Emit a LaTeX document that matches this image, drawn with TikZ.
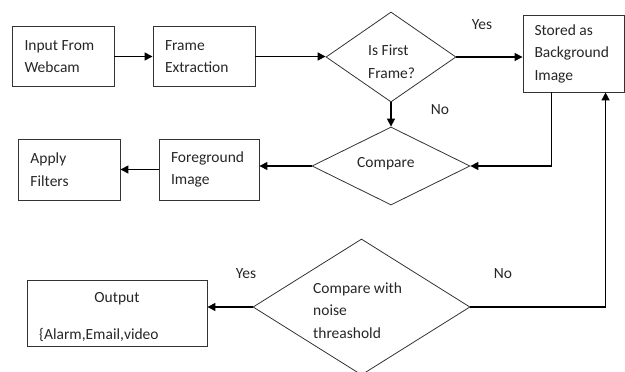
\documentclass[tikz,border=0pt]{standalone}
\usepackage{fontspec}
\setmainfont{Carlito}
\usetikzlibrary{shapes.geometric,arrows.meta,calc}
\begin{document}
\begin{tikzpicture}[x=1pt,y=-1pt,
  every node/.style={font=\fontsize{15.5}{22.5}\selectfont, text=black!85},
  box/.style={draw=black!80, line width=0.9pt, rectangle, inner sep=0pt, align=flush left},
  dec/.style={draw=black!80, line width=0.8pt, diamond, inner sep=0pt},
  arr/.style={draw=black, line width=1.5pt, -{Triangle[length=8pt,width=8pt]}},
  lbl/.style={inner sep=0pt}]
\useasboundingbox (0,0) rectangle (625,372);
% boxes
\node[box, minimum width=102pt, minimum height=60pt, text width=77pt] (b1) at (63,56.5) {Input From\\Webcam};
\node[box, minimum width=102pt, minimum height=60pt, text width=78pt] (b2) at (204,56.5) {Frame\\Extraction};
\node[box, minimum width=101pt, minimum height=77pt, text width=78pt] (b3) at (573.5,53.5) {Stored as\\Background\\Image};
\node[box, minimum width=100pt, minimum height=61pt, text width=76pt] (b4) at (209,169.5) {Foreground\\Image};
\node[box, minimum width=102pt, minimum height=61pt, text width=77pt] (b5) at (69,169.5) {Apply\\Filters};
\node[box, minimum width=180pt, minimum height=66pt] (b6) at (117,313) {};
\node[lbl, anchor=base] (o1) at (117,302) {Output};
\node[lbl, anchor=base west] (o2) at (39,339) {\{Alarm,Email,video};
% decisions
\node[dec, minimum width=130pt, minimum height=90pt] (d1) at (391,57) {};
\node[lbl, anchor=base west, align=flush left] (t1) at (368,78) {Is First\\Frame?};
\node[dec, minimum width=158pt, minimum height=78pt] (d2) at (391,166) {};
\node[lbl, anchor=base west] (t2) at (357,167) {Compare};
\node[dec, minimum width=217pt, minimum height=136pt] (d3) at (361.5,307) {};
\node[lbl, anchor=base west, align=flush left] (t3) at (313,338) {Compare with\\noise\\threashold};
% labels
\node[lbl] (y1) at (482,25) {Yes};
\node[lbl] (n1) at (440,110) {No};
\node[lbl] (y2) at (246,274) {Yes};
\node[lbl] (n2) at (503,274) {No};
% connectors
\draw[arr] (b1.east) -- (b2.west);
\draw[arr] (b2.east) -- (b2.east -| d1.west);
\draw[arr] (d1.east) -- (d1.east -| b3.west);
\draw[arr] (d1.south) -- (d2.north);
\coordinate (c1) at ($(b3.south west)+(29,0)$);
\draw[arr] (c1) |- (d2.east);
\draw[arr] (d2.west) -- (d2.west -| b4.east);
\draw[arr] (b4.west) -- (b4.west -| b5.east);
\coordinate (c2) at ($(b3.south west)+(83,0)$);
\draw[arr] (d3.east) -| (c2);
\draw[arr] (d3.west) -- (d3.west -| b6.east);
\end{tikzpicture}
\end{document}
